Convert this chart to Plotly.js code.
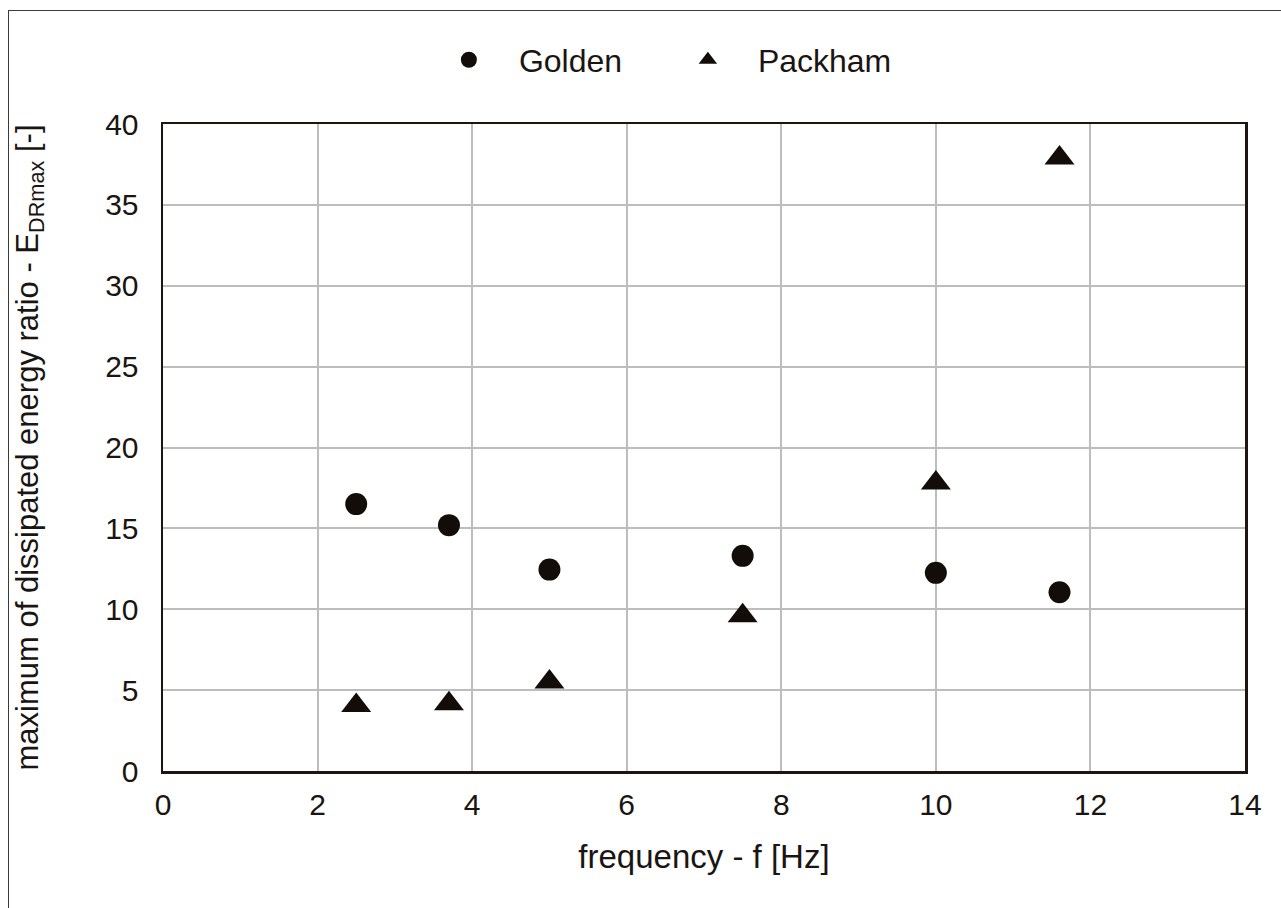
<!DOCTYPE html>
<html>
<head>
<meta charset="utf-8">
<script src="https://cdn.plot.ly/plotly-3.0.1.min.js"></script>
<style>
  html, body { margin: 0; padding: 0; background: #ffffff; }
  #wrap { position: relative; width: 1281px; height: 908px; overflow: hidden; }
  #chart { width: 1281px; height: 908px; }
  #frame { position: absolute; left: 8px; top: 10px; width: 1400px; height: 1000px;
           border-left: 1.5px solid #3a3a3a; border-top: 1.5px solid #3a3a3a; pointer-events: none; }
</style>
</head>
<body>
<div id="wrap">
  <div id="chart"></div>
  <div id="frame"></div>
</div>
<script>
// Data
const seriesNames = ["Golden", "Packham"];
const frequencyGolden = [2.5, 3.7, 5, 7.5, 10, 11.6];
const edrGolden = [16.5, 15.2, 12.45, 13.3, 12.25, 11.05];
const frequencyPackham = [2.5, 3.7, 5, 7.5, 10, 11.6];
const edrPackham = [4.05, 4.15, 5.5, 9.6, 17.8, 37.9];
const xTicks = [0, 2, 4, 6, 8, 10, 12, 14];
const yTicks = [0, 5, 10, 15, 20, 25, 30, 35, 40];

const markColor = "#130d0a";
const textColor = "#1a1512";
const fontFam = "'Liberation Sans', Arial, sans-serif";

const traces = [
  {
    x: frequencyGolden, y: edrGolden, name: seriesNames[0],
    type: "scatter", mode: "markers",
    marker: { symbol: "circle", size: 22, color: markColor }
  },
  {
    x: frequencyPackham, y: edrPackham, name: seriesNames[1],
    type: "scatter", mode: "markers",
    marker: { symbol: "triangle-up", size: 26, color: markColor }
  }
];

const layout = {
  width: 1281, height: 908,
  paper_bgcolor: "#ffffff", plot_bgcolor: "#ffffff",
  margin: { l: 163, r: 36, t: 124, b: 137, pad: 0, autoexpand: false },
  font: { family: fontFam, size: 30, color: textColor },
  showlegend: true,
  legend: {
    orientation: "h",
    xref: "container", x: 0.327, xanchor: "left",
    yref: "container", y: 0.934, yanchor: "middle",
    font: { family: fontFam, size: 32, color: textColor },
    itemwidth: 90, entrywidth: 134, bgcolor: "rgba(0,0,0,0)"
  },
  xaxis: {
    range: [0, 14], tickvals: xTicks, ticktext: xTicks.map(String),
    showgrid: true, gridcolor: "#bdbdbd", gridwidth: 2,
    zeroline: false, showline: true, mirror: true, linecolor: "#1c1512", linewidth: 2.5,
    ticks: "", ticklabelstandoff: 5,
    tickfont: { family: fontFam, size: 30, color: textColor },
    title: { text: "frequency - f [Hz]", font: { family: fontFam, size: 33, color: textColor }, standoff: 26 }
  },
  yaxis: {
    range: [0, 40], tickvals: yTicks, ticktext: yTicks.map(String),
    showgrid: true, gridcolor: "#bdbdbd", gridwidth: 2,
    zeroline: false, showline: true, mirror: true, linecolor: "#1c1512", linewidth: 2.5,
    ticks: "", ticklabelstandoff: 16,
    tickfont: { family: fontFam, size: 30, color: textColor },
    title: { text: "maximum of dissipated energy ratio - E<sub>DRmax</sub> [-]", font: { family: fontFam, size: 31, color: textColor }, standoff: 58 }
  }
};

Plotly.newPlot("chart", traces, layout, { displayModeBar: false, staticPlot: true });
</script>
</body>
</html>
